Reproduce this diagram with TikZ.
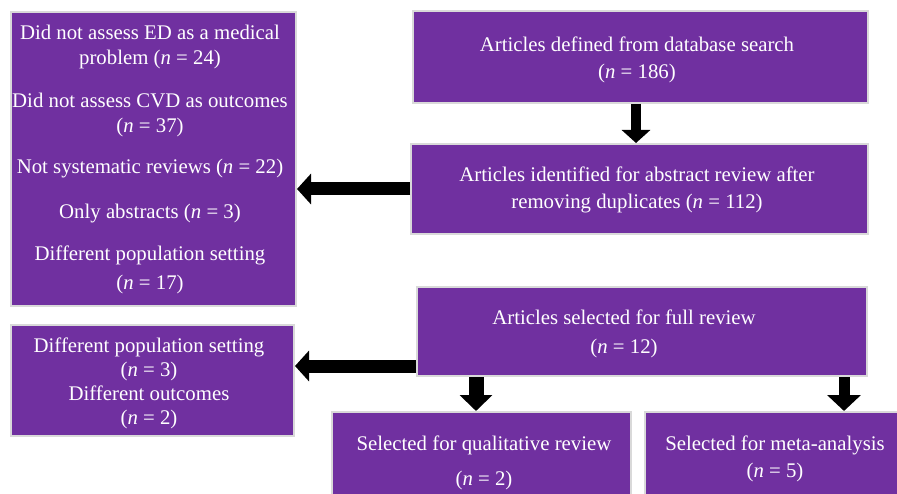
\documentclass[tikz,border=0pt]{standalone}
\usepackage{fontspec}
\setmainfont{Liberation Serif}
\usetikzlibrary{arrows.meta, positioning}
\definecolor{boxpurple}{RGB}{112,48,160}
\definecolor{boxedge}{RGB}{217,217,217}
\tikzset{
	block/.style={draw=boxedge, line width=2pt, fill=boxpurple},
	boxtext/.style={text=white, align=center, font=\fontsize{20.8}{25}\selectfont},
	bigarrow/.style={draw=black, line width=13pt, -{Triangle[length=14pt, width=30pt]}}
}

\begin{document}
\begin{tikzpicture}[x=1pt, y=-1pt]
		\clip (0,0) rectangle (897,494);
		
		% Database search
		\node[block, minimum width=455pt, minimum height=92pt] (search) at (640.5,57) {};
		\node[boxtext] at ([xshift=-3.5pt, yshift=-3pt]search) {Articles defined from database search\\[2pt](\textit{n} = 186)};
		
		% After removing duplicates
		\node[block, minimum width=457pt, minimum height=90pt] (dedup) at (639.5,189) {};
		\node[boxtext] at ([xshift=-2.5pt, yshift=-0.5pt]dedup) {Articles identified for abstract review after\\[2pt]removing duplicates (\textit{n} = 112)};
		
		% Excluded after abstract review
		\node[block, minimum width=285pt, minimum height=294pt] (absexcl) at (153.5,159) {};
		\node[boxtext] at ([xshift=-3.5pt, yshift=-0.5pt]absexcl) {Did not assess ED as a medical\\problem (\textit{n} = 24)\\[18pt]Did not assess CVD as outcomes\\(\textit{n} = 37)\\[16pt]Not systematic reviews (\textit{n} = 22)\\[20pt]Only abstracts (\textit{n} = 3)\\[17pt]Different population setting\\[4pt](\textit{n} = 17)};
		
		% Full review
		\node[block, minimum width=450pt, minimum height=89pt] (full) at (642,331.5) {};
		\node[boxtext] at ([xshift=-18pt, yshift=-2.5pt]full) {Articles selected for full review\\[4pt](\textit{n} = 12)};
		
		% Excluded after full review
		\node[block, minimum width=283pt, minimum height=111pt] (fullexcl) at (152.5,380.5) {};
		\node[boxtext, font=\fontsize{20.8}{24}\selectfont] at ([xshift=-3.5pt, yshift=-2.5pt]fullexcl) {Different population setting\\(\textit{n} = 3)\\Different outcomes\\(\textit{n} = 2)};
		
		% Included
		\node[block, minimum width=299pt, minimum height=107pt] (qual) at (481.5,465.5) {};
		\node[boxtext] at ([xshift=2.5pt, yshift=3pt]qual) {Selected for qualitative review\\[10pt](\textit{n} = 2)};
		\node[block, minimum width=279pt, minimum height=107pt] (meta) at (784.5,465.5) {};
		\node[boxtext] at ([xshift=-9.5pt, yshift=7pt]meta) {Selected for meta-analysis\\[2pt](\textit{n} = 5)};
		
		% Arrows
		\draw[bigarrow, line width=10pt, -{Triangle[length=13pt, width=28pt]}] ([xshift=-4.5pt]search.south) -- ([xshift=-4.5pt]search.south |- dedup.north);
		\draw[bigarrow] (dedup.west) -- (dedup.west -| absexcl.east);
		\draw[bigarrow] ([yshift=-34.5pt]full.west) -- ([yshift=-34.5pt]full.west -| fullexcl.east);
		\draw[bigarrow, line width=15pt, -{Triangle[length=16pt, width=32pt]}] ([xshift=-5.5pt]qual.north |- full.south) -- ([xshift=-5.5pt]qual.north);
		\draw[bigarrow, line width=11pt, -{Triangle[length=16pt, width=33pt]}] ([xshift=59.5pt]meta.north |- full.south) -- ([xshift=59.5pt]meta.north);
	\end{tikzpicture}
\end{document}
